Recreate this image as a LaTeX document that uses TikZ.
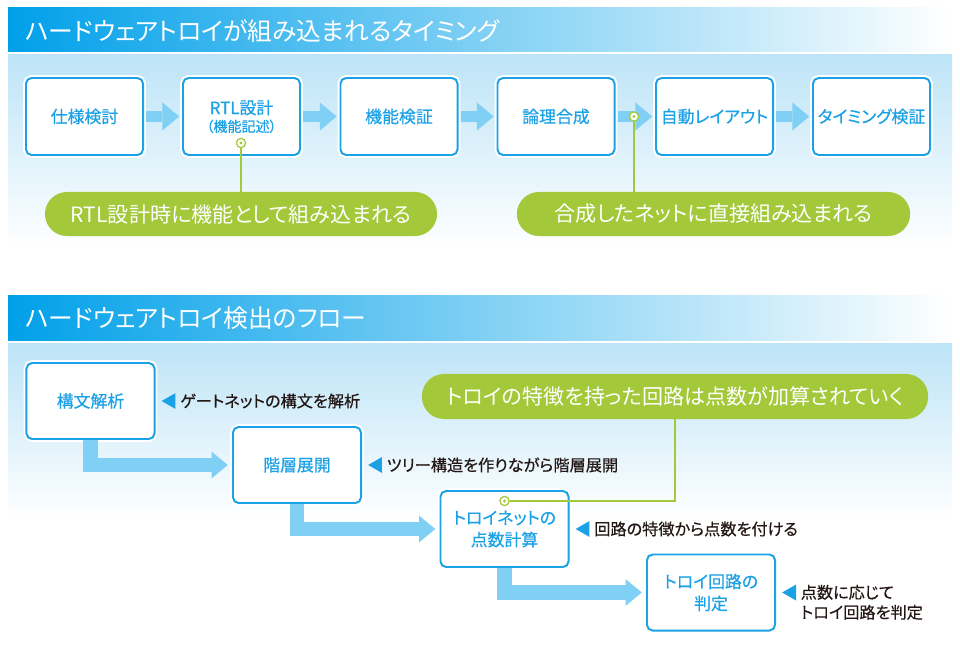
\documentclass[tikz,border=0pt]{standalone}
\usepackage{fontspec}
\setmainfont[RawFeature=+palt]{Noto Sans CJK JP}
\newfontfamily\boxfont[RawFeature=+palt, FakeBold=0.5]{Noto Sans CJK JP}
\usetikzlibrary{positioning,arrows.meta,shadows,shapes.geometric}

\definecolor{titleblue}{HTML}{00A0E9}
\definecolor{titlemid}{HTML}{5CC7F2}
\definecolor{panelblue}{HTML}{BDE4F7}
\definecolor{boxblue}{HTML}{1BA1E6}
\definecolor{flowblue}{HTML}{7FD0F4}
\definecolor{calloutgreen}{HTML}{A3C93A}
\definecolor{notetext}{HTML}{231815}

\begin{document}
\begin{tikzpicture}[x=0.025cm, y=-0.025cm,
  titletext/.style={anchor=west, inner sep=0pt, text=white, font=\fontsize{17.6pt}{20pt}\selectfont},
  stepbox/.style={drop shadow={opacity=0.3, shadow xshift=1.2pt, shadow yshift=-1.5pt},
    preaction={draw=white, line width=4.2pt},
    draw=boxblue, line width=1.4pt, fill=white, rounded corners=4pt, text=boxblue,
    align=center, inner sep=1pt, font=\boxfont\fontsize{12pt}{15.6pt}\selectfont,
    minimum width=2.925cm, minimum height=1.925cm},
  flowbox/.style={stepbox, minimum width=3.2cm, minimum height=1.9cm},
  flowarrow/.style={draw=flowblue, line width=8.5pt, line join=miter,
    -{Triangle[width=20pt, length=12pt, line width=0pt]}, shorten <=1.5pt, shorten >=2pt},
  flowelbow/.style={flowarrow, line width=10pt, shorten <=0pt, shorten >=3pt,
    -{Triangle[width=19pt, length=11.5pt, line width=0pt]}},
  callout/.style={fill=calloutgreen, rounded corners=0.55cm, text=white, inner sep=0pt,
    font=\fontsize{15pt}{17pt}\selectfont, minimum height=1.1cm},
  hookdot/.style={circle, draw=calloutgreen, fill=white, line width=0.9pt, inner sep=0pt,
    minimum size=0.23cm,
    path picture={\fill[calloutgreen] (path picture bounding box.center) circle (1.1pt);}},
  hookline/.style={draw=calloutgreen, line width=1pt},
  pointer/.style={regular polygon, regular polygon sides=3, shape border rotate=90,
    fill=boxblue, inner sep=0pt, minimum size=0.46cm},
  note/.style={inner sep=1pt, text=notetext, font=\boxfont\fontsize{11.5pt}{14.2pt}\selectfont}]
\useasboundingbox (0,0) rectangle (960,650);
\fill[white] (0,0) rectangle (960,650);

% --- when the trojan gets in ---
\shade[left color=titleblue, middle color=titlemid, right color=white] (8,8) rectangle (952,52);
\shade[top color=panelblue, bottom color=white] (8,55) rectangle (952,248);
\node[titletext] (title1) at (25,31) {ハードウェアトロイが組み込まれるタイミング};

\node[stepbox] (spec) at (84.5,116.5) {仕様検討};
\node[stepbox] (rtl) at (241.5,116.5) {RTL設計\\[-3pt]{\fontsize{10pt}{12pt}\selectfont （機能記述）}};
\node[stepbox] (funcver) at (399,116.5) {機能検証};
\node[stepbox] (synth) at (556,116.5) {論理合成};
\node[stepbox] (layout) at (714.5,116.5) {自動レイアウト};
\node[stepbox] (timing) at (871.5,116.5) {タイミング検証};

\draw[flowarrow] (spec) -- (rtl);
\draw[flowarrow] (rtl) -- (funcver);
\draw[flowarrow] (funcver) -- (synth);
\draw[flowarrow] (synth) -- (layout);
\draw[flowarrow] (layout) -- (timing);

\node[callout, minimum width=9.8cm] (embedrtl) at (241,214) {RTL設計時に機能として組み込まれる};
\node[callout, minimum width=9.83cm] (embednet) at (713.5,214) {合成したネットに直接組み込まれる};
\node[hookdot] (dotrtl) at (241,143) {};
\node[hookdot] (dotnet) at (634,116.5) {};
\draw[hookline] (dotrtl) -- (embedrtl);
\draw[hookline] (dotnet) -- (dotnet |- embednet.north);

% --- detection flow ---
\shade[left color=titleblue, middle color=titlemid, right color=white] (8,295) rectangle (952,340);
\shade[top color=panelblue, bottom color=white] (8,343) rectangle (952,520);
\node[titletext] (title2) at (25,318) {ハードウェアトロイ検出のフロー};

\node[flowbox] (parse) at (90.5,401) {構文解析};
\node[flowbox] (expand) at (297,465) {階層展開};
\node[flowbox] (score) at (504.5,529) {トロイネットの\\点数計算};
\node[flowbox] (judge) at (711,592.5) {トロイ回路の\\判定};

\draw[flowelbow] (parse.south) |- (expand);
\draw[flowelbow] (expand.south) |- (score);
\draw[flowelbow] (score.south) |- (judge);

\node[pointer, right=4pt of parse] (pparse) {};
\node[note, right=2pt of pparse] (nparse) {ゲートネットの構文を解析};
\node[pointer, right=4pt of expand] (pexpand) {};
\node[note, right=2pt of pexpand] (nexpand) {ツリー構造を作りながら階層展開};
\node[pointer, right=4pt of score] (pscore) {};
\node[note, right=2pt of pscore] (nscore) {回路の特徴から点数を付ける};
\node[pointer, right=4pt of judge] (pjudge) {};
\node[note, right=2pt of pjudge, yshift=-7pt, align=left] (njudge) {点数に応じて\\トロイ回路を判定};

\node[callout, minimum width=12.65cm, minimum height=1.125cm] (scorenote) at (675,396.5) {トロイの特徴を持った回路は点数が加算されていく};
\node[hookdot] (dotscore) at (504.5,501) {};
\draw[hookline] (dotscore) -| (scorenote);
\end{tikzpicture}
\end{document}
